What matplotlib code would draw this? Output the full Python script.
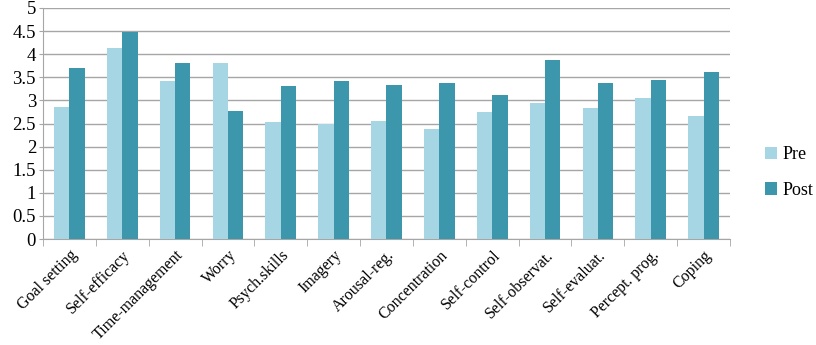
import numpy as np
import matplotlib
matplotlib.use('Agg')
import matplotlib.pyplot as plt
from matplotlib.patches import Patch

categories = ['Goal setting', 'Self-efficacy', 'Time-management', 'Worry', 'Psych.skills',
              'Imagery', 'Arousal-reg.', 'Concentration', 'Self-control', 'Self-observat.',
              'Self-evaluat.', 'Percept. prog.', 'Coping']
pre = [2.86, 4.13, 3.43, 3.80, 2.54, 2.50, 2.55, 2.39, 2.75, 2.94, 2.84, 3.05, 2.66]
post = [3.69, 4.47, 3.80, 2.76, 3.31, 3.41, 3.33, 3.38, 3.12, 3.87, 3.38, 3.44, 3.61]

pre_color = '#a6d6e3'
post_color = '#3c96ac'
grid_color = '#a6a6a6'

plt.rcParams['font.family'] = ['Liberation Serif', 'DejaVu Serif']

fig = plt.figure(figsize=(8.16, 3.45), dpi=100)
ax = fig.add_axes([0.0527, 0.307, 0.8419, 0.670])

x = np.arange(len(categories))
w = 0.29
ax.bar(x - w / 2, pre, width=w, color=pre_color, zorder=3)
ax.bar(x + w / 2, post, width=w, color=post_color, zorder=3)

ax.set_xlim(-0.5, len(categories) - 0.5)
ax.set_ylim(0, 5)
ax.set_yticks(np.arange(0, 5.01, 0.5))
ax.set_yticklabels(['0', '0.5', '1', '1.5', '2', '2.5', '3', '3.5', '4', '4.5', '5'], fontsize=13.5)
ax.yaxis.grid(True, color=grid_color, linewidth=1.0, zorder=0)

# category labels at centers, tick marks at boundaries
ax.set_xticks(x)
ax.set_xticklabels(categories, rotation=45, ha='right', rotation_mode='anchor', fontsize=11.5)
ax.tick_params(axis='x', length=0, pad=6)
ax.set_xticks(np.arange(-0.5, len(categories)), minor=True)
ax.tick_params(axis='x', which='minor', length=5, color=grid_color, direction='out')
ax.tick_params(axis='y', length=3, color=grid_color, pad=2)

for side in ['top', 'right']:
    ax.spines[side].set_visible(False)
ax.spines['left'].set_color(grid_color)
ax.spines['bottom'].set_color(grid_color)

handles = [Patch(facecolor=pre_color, label='Pre'), Patch(facecolor=post_color, label='Post')]
fig.legend(handles=handles, loc='center left', bbox_to_anchor=(0.917, 0.50), frameon=False,
           fontsize=13, handlelength=0.7, handleheight=0.7, handletextpad=0.3, labelspacing=1.0)

plt.savefig('out.png', dpi=100)
plt.close()
